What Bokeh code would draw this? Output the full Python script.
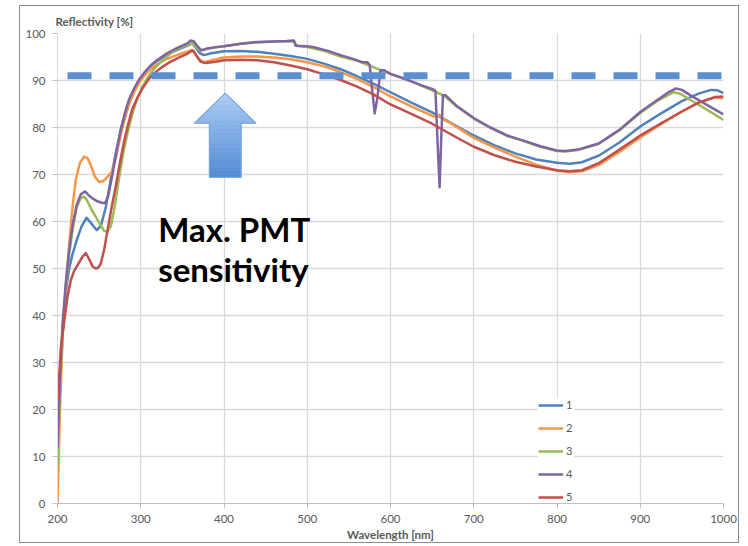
import numpy as np
from bokeh.plotting import figure
from bokeh.models import Range1d, FixedTicker
from bokeh.core.properties import value
from bokeh.embed import file_html
from bokeh.resources import INLINE

# ---------------- data ----------------
x_ticks = [200, 300, 400, 500, 600, 700, 800, 900, 1000]
y_ticks = [0, 10, 20, 30, 40, 50, 60, 70, 80, 90, 100]
series_names = ["1", "2", "3", "4", "5"]

x1 = [200, 203, 206, 210, 214, 218, 223, 229, 235, 241, 247, 252, 258, 264, 270, 276, 281, 286, 292, 298,
      305, 312, 320, 330, 340, 350, 357, 362, 366, 371, 376, 385, 400, 420, 440, 460, 480, 500, 520, 540,
      560, 580, 600, 625, 650, 675, 700, 725, 750, 775, 800, 815, 830, 850, 875, 900, 925, 950, 970, 985,
      993, 1000]
y1 = [8, 25, 36, 45, 50, 53, 56, 59, 60.8, 59.5, 58.2, 59, 63, 69, 74.5, 79.5, 83, 85.8, 88, 90,
      91.8, 93.2, 94.2, 95.3, 96.2, 97, 97.5, 97.9, 97, 95.8, 95.4, 95.8, 96.2, 96.3, 96.1, 95.7, 95.2, 94.6, 93.6, 92.4,
      90.9, 89.3, 87.5, 85.3, 83.2, 80.7, 78.3, 76.2, 74.5, 73.2, 72.5, 72.3, 72.6, 74, 76.8, 80.2, 83, 85.6, 87.2, 88,
      87.9, 87.3]

x2 = [200, 203, 206, 210, 214, 218, 222, 227, 232, 236, 240, 245, 250, 255, 260, 265, 270, 276, 281, 286,
      292, 298, 305, 312, 320, 330, 340, 350, 357, 361, 365, 370, 376, 385, 400, 420, 440, 460, 480, 500,
      520, 540, 560, 580, 600, 625, 650, 655, 659, 663, 675, 700, 725, 750, 775, 800, 815, 830, 850, 875,
      900, 925, 950, 970, 990, 1000]
y2 = [0, 20, 35, 46, 55, 63, 69, 72.5, 73.8, 73.5, 72, 69.5, 68.4, 68.6, 69.5, 70.5, 73.5, 78.5, 82, 85,
      87.5, 89.5, 91.2, 92.5, 93.5, 94.5, 95.2, 95.8, 96.2, 96.5, 95.7, 94.5, 93.9, 94.3, 94.9, 95.1, 95.1, 94.9, 94.5, 93.9,
      93, 91.8, 90.3, 88.6, 86.6, 84.5, 82.5, 82.2, 82.7, 81.8, 80.6, 77.8, 75.7, 73.8, 72.1, 70.8, 70.5, 70.7, 72, 74.8,
      77.9, 80.7, 83.4, 85.3, 86.4, 86.2]

x3 = [200, 203, 206, 210, 214, 218, 223, 228, 232, 236, 241, 246, 251, 256, 260, 264, 268, 272, 276, 280,
      285, 290, 296, 302, 308, 315, 322, 330, 340, 350, 357, 362, 366, 371, 376, 385, 400, 420, 440, 460,
      484, 488, 500, 520, 540, 560, 580, 600, 625, 650, 665, 680, 700, 720, 740, 760, 780, 800, 810, 825,
      850, 875, 900, 920, 940, 948, 960, 980, 1000]
y3 = [8, 24, 36, 46, 53, 58, 63, 65, 65.3, 64.3, 62.5, 61, 59.5, 58, 57.9, 59, 62.5, 67, 71.5, 75.5,
      79.5, 83, 86.3, 88.7, 90.5, 92.3, 93.6, 94.9, 96.3, 97.2, 97.6, 97.9, 97.2, 96.4, 96.6, 96.9, 97.3, 97.8, 98.1, 98.3,
      98.3, 97.4, 97.1, 96.3, 95.1, 94.2, 92.8, 91.4, 89.8, 87.9, 86.7, 84.4, 81.9, 79.9, 78.2, 77.1, 75.9, 75, 74.9, 75.2,
      76.5, 79.4, 83.1, 85.6, 87.5, 87.2, 85.9, 83.8, 81.6]

x4 = [200, 203, 206, 210, 214, 218, 223, 228, 233, 238, 243, 248, 253, 257, 261, 266, 271, 276, 281, 286,
      292, 298, 305, 312, 320, 330, 340, 350, 356, 360, 364, 368, 373, 380, 390, 400, 420, 440, 460, 475,
      484, 486, 500, 510, 525, 540, 555, 566, 572, 575, 578, 581, 584, 588, 592, 600, 610, 625, 640, 650,
      654, 657, 659, 661, 663, 666, 680, 700, 720, 740, 760, 780, 800, 810, 825, 850, 875, 900, 920, 935,
      943, 950, 960, 980, 1000]
y4 = [12, 27, 38, 47, 54, 59, 63.5, 65.8, 66.4, 65.5, 64.8, 64.3, 64, 63.9, 65.5, 70, 75, 79.5, 83, 86,
      88.3, 90.2, 91.8, 93.2, 94.4, 95.6, 96.6, 97.4, 97.9, 98.5, 98.3, 97.3, 96.4, 96.8, 97.1, 97.3, 97.8, 98.2, 98.3, 98.4,
      98.5, 97.4, 97.3, 97, 96.3, 95.4, 94.6, 93.9, 93.9, 93.3, 88, 83, 86, 92.2, 92.2, 91.4, 90.8, 89.8, 88.8, 88.2,
      87.8, 75, 67.3, 78, 86.8, 86.9, 84.5, 82, 80, 78.3, 77.2, 76, 75.1, 75, 75.3, 76.6, 79.5, 83.3, 85.8, 87.6,
      88.3, 88, 86.9, 84.8, 82.8]

x5 = [200, 202, 204, 206, 209, 212, 216, 220, 225, 230, 234, 238, 242, 246, 249, 252, 256, 260, 265, 270,
      275, 280, 285, 290, 296, 302, 310, 318, 326, 335, 345, 355, 360, 363, 367, 372, 378, 390, 400, 420,
      440, 460, 480, 500, 520, 540, 560, 580, 600, 625, 650, 675, 700, 725, 750, 775, 800, 815, 830, 850,
      875, 900, 925, 950, 970, 990, 1000]
y5 = [22, 27, 33, 36, 40, 44, 47.5, 49.5, 51, 52.5, 53.3, 52, 50.5, 50, 50.2, 51, 54, 58, 63, 67.5,
      72.5, 77, 80.8, 84, 86.3, 88.3, 90.4, 91.8, 92.9, 93.9, 94.8, 95.6, 96.2, 96.4, 95.3, 94, 93.7, 94, 94.3, 94.4,
      94.3, 93.9, 93.2, 92.4, 91.3, 90.1, 88.7, 87, 84.9, 82.9, 80.8, 78.3, 75.9, 74.1, 72.7, 71.7, 70.9, 70.7, 70.9, 72.4,
      75.3, 78.3, 80.9, 83.4, 85.3, 86.5, 86.6]

# reference level (max PMT sensitivity) drawn as a dashed line
ref_x = [212, 1000]
ref_y = [91, 91]

# ---------------- styling ----------------
colors = ["#4F81BD", "#F79646", "#9BBB59", "#8064A2", "#C0504D"]
grey_txt = "#595959"
grid_col = "#d9d9d9"

p = figure(width=720, height=538, output_backend="svg", toolbar_location=None,
           x_range=Range1d(200, 1000), y_range=Range1d(0, 100),
           min_border_left=37, min_border_right=17, min_border_top=27, min_border_bottom=41,
           background_fill_color="white", border_fill_color="white", outline_line_color=None)
p.styles = {"margin-left": "19px", "margin-top": "5px", "border": "1px solid #8c8c8c"}

p.title.text = "Reflectivity [%]"
p.title.align = "left"
p.title.offset = -2
p.title.standoff = 12
p.title.text_font = "Lato"
p.title.text_font_size = "11.5px"
p.title.text_font_style = "bold"
p.title.text_color = grey_txt

for ax in (p.xaxis[0], p.yaxis[0]):
    ax.axis_line_color = "#bfbfbf"
    ax.major_tick_line_color = "#bfbfbf"
    ax.major_tick_out = 5
    ax.major_tick_in = 0
    ax.minor_tick_line_color = None
    ax.major_label_text_font = "Lato"
    ax.major_label_text_font_size = "11.5px"
    ax.major_label_text_color = grey_txt
p.yaxis.axis_line_color = grid_col
p.xaxis.ticker = FixedTicker(ticks=x_ticks)
p.yaxis.ticker = FixedTicker(ticks=y_ticks)
p.xaxis.major_label_standoff = 6
p.yaxis.major_label_standoff = 7
p.xaxis.axis_label = "Wavelength [nm]"
p.xaxis.axis_label_text_font = "Lato"
p.xaxis.axis_label_text_font_size = "11.5px"
p.xaxis.axis_label_text_font_style = "bold"
p.xaxis.axis_label_text_color = grey_txt
p.xaxis.axis_label_standoff = 2

p.xgrid.grid_line_color = grid_col
p.ygrid.grid_line_color = grid_col
p.xgrid.grid_line_width = 1.3
p.ygrid.grid_line_width = 1.3

xs = [x1, x2, x3, x4, x5]
ys = [y1, y2, y3, y4, y5]
for xx, yy, c, n in zip(xs, ys, colors, series_names):
    p.line(xx, yy, line_color=c, line_width=2.5, line_join="round", legend_label=n)

# dashed max-sensitivity level
p.line(ref_x, ref_y, line_color="#5B8FD0", line_width=7, line_dash="24 18", line_cap="butt")

# gradient arrow (annotation geometry)
arrow_cx = 401.5
arrow_tip = 87.3
arrow_head_base = 80.9
arrow_bottom = 69.4
arrow_head_half = 37.0
arrow_shaft_half = 19.0
top_rgb = np.array([0xAB, 0xCD, 0xF5])
bot_rgb = np.array([0x50, 0x89, 0xD3])


def band_half(yv, in_head):
    if not in_head:
        return arrow_shaft_half
    return arrow_head_half * (arrow_tip - yv) / (arrow_tip - arrow_head_base)


bx, by, bc = [], [], []
shaft_edges = np.linspace(arrow_bottom, arrow_head_base, 41)
head_edges = np.linspace(arrow_head_base, arrow_tip, 25)
for edges, in_head in ((shaft_edges, False), (head_edges, True)):
    for y0, y1b in zip(edges[:-1], edges[1:]):
        w0 = band_half(y0, in_head)
        w1 = band_half(y1b, in_head)
        bx.append([arrow_cx - w0, arrow_cx + w0, arrow_cx + w1, arrow_cx - w1])
        by.append([y0, y0, y1b, y1b])
        t = (0.5 * (y0 + y1b) - arrow_bottom) / (arrow_tip - arrow_bottom)
        rgb = np.round(bot_rgb + (top_rgb - bot_rgb) * t).astype(int)
        bc.append("#%02x%02x%02x" % tuple(rgb))
p.patches(bx, by, fill_color=bc, line_color=bc, line_width=0.8)

ox = [arrow_cx - arrow_shaft_half, arrow_cx + arrow_shaft_half, arrow_cx + arrow_shaft_half,
      arrow_cx + arrow_head_half, arrow_cx, arrow_cx - arrow_head_half, arrow_cx - arrow_shaft_half]
oy = [arrow_bottom, arrow_bottom, arrow_head_base, arrow_head_base, arrow_tip, arrow_head_base, arrow_head_base]
p.patch(ox, oy, fill_color=None, line_color="#7aa6dc", line_width=1.2)

# annotation text
p.text(x=[321, 321], y=[58.3, 50.0], text=["Max. PMT", "sensitivity"],
       text_font=value("Lato"), text_font_style="bold", text_font_size="33px",
       text_color="black", text_baseline="alphabetic", text_align="left")

lg = p.legend[0]
lg.location = (481, 0)
lg.glyph_width = 25
lg.glyph_height = 10
lg.label_height = 10
lg.spacing = 10
lg.padding = 0
lg.margin = 0
lg.label_standoff = 3
lg.label_width = 8
lg.label_text_font = "Lato"
lg.label_text_font_size = "11px"
lg.label_text_color = grey_txt
lg.border_line_color = None
lg.background_fill_color = "white"
lg.background_fill_alpha = 1.0

open("out.html", "w").write(file_html(p, INLINE))
